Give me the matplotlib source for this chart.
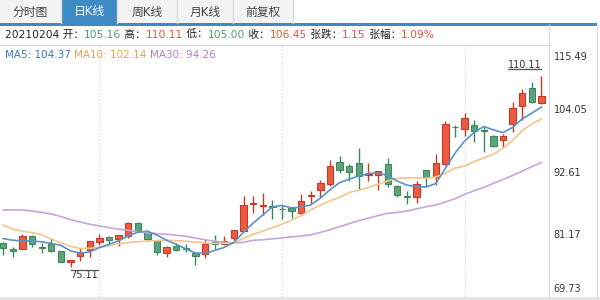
import matplotlib
matplotlib.use('Agg')
import matplotlib.pyplot as plt
import numpy as np
from matplotlib.patches import Rectangle
from matplotlib.lines import Line2D
from matplotlib.transforms import IdentityTransform

W, H = 600, 300
CJK = ['DejaVu Sans', 'Noto Sans CJK SC']

# --- data ---
date = '20210204'
opens = [79.57, 78.46, 78.46, 80.80, 78.85, 79.45, 78.09, 76.19, 77.24, 78.22,
         79.70, 80.67, 80.25, 80.80, 83.14, 81.60, 80.19, 77.80, 79.09, 78.60,
         77.80, 77.48, 79.80, 79.45, 80.56, 81.78, 86.60, 86.40, 86.30, 85.80,
         85.97, 84.99, 88.10, 89.16, 90.34, 94.33, 93.59, 94.09, 92.00, 92.06,
         93.90, 90.03, 88.20, 87.94, 92.85, 91.63, 94.00, 100.75, 100.35, 101.10,
         100.15, 99.10, 98.35, 101.25, 104.55, 107.75, 105.16]
highs = [79.75, 78.80, 81.30, 81.00, 79.60, 80.50, 78.20, 76.50, 78.70, 80.00,
         81.30, 80.80, 81.00, 83.44, 83.40, 81.90, 80.20, 79.10, 79.57, 79.45,
         77.80, 80.38, 81.12, 80.90, 81.90, 88.18, 88.18, 88.68, 87.45, 86.50,
         86.00, 88.55, 88.98, 91.00, 94.70, 95.43, 94.03, 96.98, 94.10, 92.70,
         95.14, 90.10, 89.10, 90.82, 92.90, 95.75, 101.90, 101.15, 103.25, 102.00,
         100.80, 99.25, 99.45, 105.35, 107.60, 108.95, 110.11]
lows = [77.30, 76.98, 78.40, 78.90, 77.70, 77.90, 76.06, 75.11, 76.37, 77.10,
        79.14, 79.14, 78.96, 80.56, 81.50, 80.10, 77.35, 77.10, 78.10, 77.90,
        75.50, 76.87, 78.50, 79.14, 80.07, 81.78, 84.99, 84.70, 83.90, 83.90,
        84.07, 84.86, 86.70, 87.76, 90.03, 92.37, 90.82, 89.42, 90.80, 89.29,
        89.80, 88.05, 86.70, 86.84, 89.79, 90.21, 93.80, 98.90, 99.00, 98.05,
        96.25, 97.05, 97.10, 99.90, 102.00, 105.05, 105.00]
closes = [78.72, 78.09, 80.80, 79.45, 78.70, 78.20, 76.19, 76.50, 77.85, 79.94,
          80.43, 80.07, 80.99, 83.14, 81.78, 80.25, 77.98, 78.83, 78.28, 78.50,
          77.24, 79.45, 79.45, 79.94, 81.90, 86.52, 86.85, 86.50, 86.20, 85.70,
          85.36, 87.20, 88.20, 90.50, 93.59, 92.85, 92.48, 91.75, 92.10, 92.67,
          90.40, 88.24, 88.00, 90.40, 91.63, 94.09, 101.25, 100.65, 102.35, 100.00,
          100.05, 97.25, 99.10, 104.15, 106.95, 105.30, 106.45]

ma5 = [80.38, 80.07, 79.97, 79.92, 79.79, 79.50, 79.14, 78.13, 77.72, 77.95,
       78.72, 79.33, 79.97, 80.90, 81.54, 81.72, 80.99, 80.07, 79.33, 78.50,
       77.76, 77.67, 78.22, 78.77, 79.70, 81.54, 83.20, 84.68, 86.15, 86.43,
       85.97, 86.10, 86.52, 87.76, 89.29, 90.58, 91.23, 91.78, 92.24, 92.34,
       91.87, 90.86, 90.12, 89.84, 89.79, 90.40, 93.20, 95.95, 98.15, 99.75,
       100.80, 100.20, 99.70, 100.65, 102.20, 103.25, 104.37]
ma10 = [82.83, 82.09, 81.72, 81.45, 81.08, 80.29, 79.60, 78.96, 78.59, 78.59,
        78.83, 79.09, 79.42, 79.64, 79.79, 79.92, 80.00, 80.07, 80.00, 79.90,
        79.75, 79.57, 79.50, 79.50, 79.60, 80.43, 81.17, 81.72, 82.37, 83.00,
        83.75, 84.58, 85.60, 86.50, 87.26, 87.90, 88.80, 89.20, 89.70, 90.30,
        90.90, 91.36, 91.45, 91.45, 91.38, 91.60, 92.30, 93.25, 93.60, 94.40,
        95.10, 95.75, 96.85, 98.30, 100.05, 101.35, 102.14]
ma30 = [85.60, 85.60, 85.60, 85.40, 85.14, 84.86, 84.40, 83.85, 83.40, 83.00,
        82.70, 82.37, 82.10, 81.90, 81.60, 81.45, 81.27, 81.17, 80.99, 80.80,
        80.47, 80.16, 79.90, 79.70, 79.57, 79.70, 80.07, 80.16, 80.34, 80.50,
        80.70, 80.84, 81.08, 81.50, 82.00, 82.56, 83.10, 83.66, 84.10, 84.58,
        85.00, 85.14, 85.40, 85.80, 86.20, 86.50, 87.05, 87.65, 88.45, 89.10,
        89.72, 90.45, 91.15, 91.90, 92.70, 93.50, 94.26]

y_ticks = [69.73, 81.17, 92.61, 104.05, 115.49]
grid_idx = [10, 29, 48]
tabs = ['分时图', '日K线', '周K线', '月K线', '前复权']
active_tab = 1

RED, RED_EDGE = '#ec5a42', '#c23b27'
GREEN, GREEN_EDGE = '#5fa37d', '#3a8a5b'
UP_TXT, DN_TXT = '#e5553f', '#4e9e70'


def px_rect(fig, x0, y0, x1, y1, color, **kw):
    fig.add_artist(Rectangle((x0 / W, 1 - y1 / H), (x1 - x0) / W, (y1 - y0) / H,
                             transform=fig.transFigure, facecolor=color,
                             edgecolor='none', **kw))


def px_line(fig, xs, ys, color, lw=1.0):
    fig.add_artist(Line2D([x / W for x in xs], [1 - y / H for y in ys],
                          transform=fig.transFigure, color=color, lw=lw))


fig = plt.figure(figsize=(6, 3), dpi=100, facecolor='white')

#  tab bar
edges = [0, 61, 117, 177, 233, 293]
for k, name in enumerate(tabs):
    bg = '#3d8ac4' if k == active_tab else '#f4f4f4'
    px_rect(fig, edges[k], 0, edges[k + 1], 23, bg)
    px_line(fig, [edges[k + 1], edges[k + 1]], [0, 23], '#dcdcdc')
    fig.text((edges[k] + edges[k + 1]) / 2 / W, 1 - 12 / H, name,
             ha='center', va='center', fontsize=8.5, family=CJK,
             color='white' if k == active_tab else '#444444')
px_rect(fig, 0, 23, 597, 25.5, '#3d8ac4')

#  frame lines
px_line(fig, [548.5, 548.5], [25, 297], '#dddddd')
px_line(fig, [597, 597], [25, 297], '#dddddd')
px_line(fig, [0, 548.5], [45.5, 45.5], '#dddddd')
px_rect(fig, 0, 297, 600, 300, '#e6e6e6')

#  price chart
ax = fig.add_axes([0, 3 / H, 548 / W, (297 - 46) / H])
idx = np.arange(len(closes))
o, h, l, c = map(np.array, (opens, highs, lows, closes))
up = c >= o
body_col = np.where(up, RED, GREEN)
edge_col = np.where(up, RED_EDGE, GREEN_EDGE)

ax.vlines(idx, l, h, colors=edge_col, lw=1.0, zorder=2)
ax.bar(idx, np.maximum(np.abs(c - o), 0.15), bottom=np.minimum(o, c), width=0.66,
       color=body_col, edgecolor=edge_col, lw=0.8, zorder=3)

ax.plot(idx, ma30, color='#c7a6dc', lw=1.2, zorder=4)
ax.plot(idx, ma10, color='#f3c58c', lw=1.2, zorder=4)
ax.plot(idx, ma5, color='#5993c8', lw=1.2, zorder=4)

for g in grid_idx:
    ax.axvline(g, color='#d0d0d0', lw=0.8, ls=(0, (1, 2)), zorder=1)

ax.set_xlim(-0.34, 56.68)
ax.set_ylim(y_ticks[0], y_ticks[-1])
ax.set_xticks([])
ax.set_yticks([])
for s in ax.spines.values():
    s.set_visible(False)

#  right-hand price labels, the end ones pulled inside the frame
nudge = {0: 6, len(y_ticks) - 1: -8}
for k, v in enumerate(y_ticks):
    ax.annotate(f'{v:.2f}', xy=(1, v), xycoords=ax.get_yaxis_transform(),
                xytext=(4, nudge.get(k, -0.8)), textcoords='offset points',
                ha='left', va='center', fontsize=7, color='#333333',
                annotation_clip=False)

#  max / min marks
imax, imin = int(np.argmax(h)), int(np.argmin(l))
t_hi = ax.annotate(f'{h[imax]:.2f}', xy=(imax, h[imax]), xytext=(0, 4),
                   textcoords='offset points', ha='right', va='bottom',
                   fontsize=7, color='#333333')
t_lo = ax.annotate(f'{l[imin]:.2f}', xy=(imin, l[imin]), xytext=(0, -1.5),
                   textcoords='offset points', ha='left', va='top',
                   fontsize=7, color='#333333')

#  info row and MA legend
info = [(date + ' 开：', '#222222'), (f'{o[-1]:.2f}', DN_TXT),
        (' 高：', '#222222'), (f'{h[-1]:.2f}', UP_TXT),
        (' 低：', '#222222'), (f'{l[-1]:.2f}', DN_TXT),
        (' 收：', '#222222'), (f'{c[-1]:.2f}', UP_TXT),
        (' 张跌：', '#222222'), (f'{c[-1] - c[-2]:.2f}', UP_TXT),
        (' 张幅：', '#222222'), (f'{(c[-1] - c[-2]) / c[-2] * 100:.2f}%', UP_TXT)]
legend = [(f'MA5: {ma5[-1]:.2f} ', '#3b7ab5'), (f'MA10: {ma10[-1]:.2f} ', '#e8a24a'),
          (f'MA30: {ma30[-1]:.2f}', '#a982c4')]

renderer = fig.canvas.get_renderer()


def text_run(x, y, parts, size):
    for s, col in parts:
        t = fig.text(x / W, 1 - y / H, s, color=col, fontsize=size, family=CJK,
                     ha='left', va='center')
        x += t.get_window_extent(renderer).width


text_run(5, 34.5, info, 7.7)
text_run(5, 55, legend, 7.5)

bb = t_hi.get_window_extent(renderer)
fig.add_artist(Line2D([bb.x0, bb.x1], [bb.y0 + 0.5, bb.y0 + 0.5], transform=IdentityTransform(),
                      color='#555555', lw=0.9))
bb = t_lo.get_window_extent(renderer)
fig.add_artist(Line2D([bb.x0, bb.x1], [bb.y1 - 0.5, bb.y1 - 0.5], transform=IdentityTransform(),
                      color='#555555', lw=0.9))

fig.savefig('out.png', dpi=100, facecolor='white')
